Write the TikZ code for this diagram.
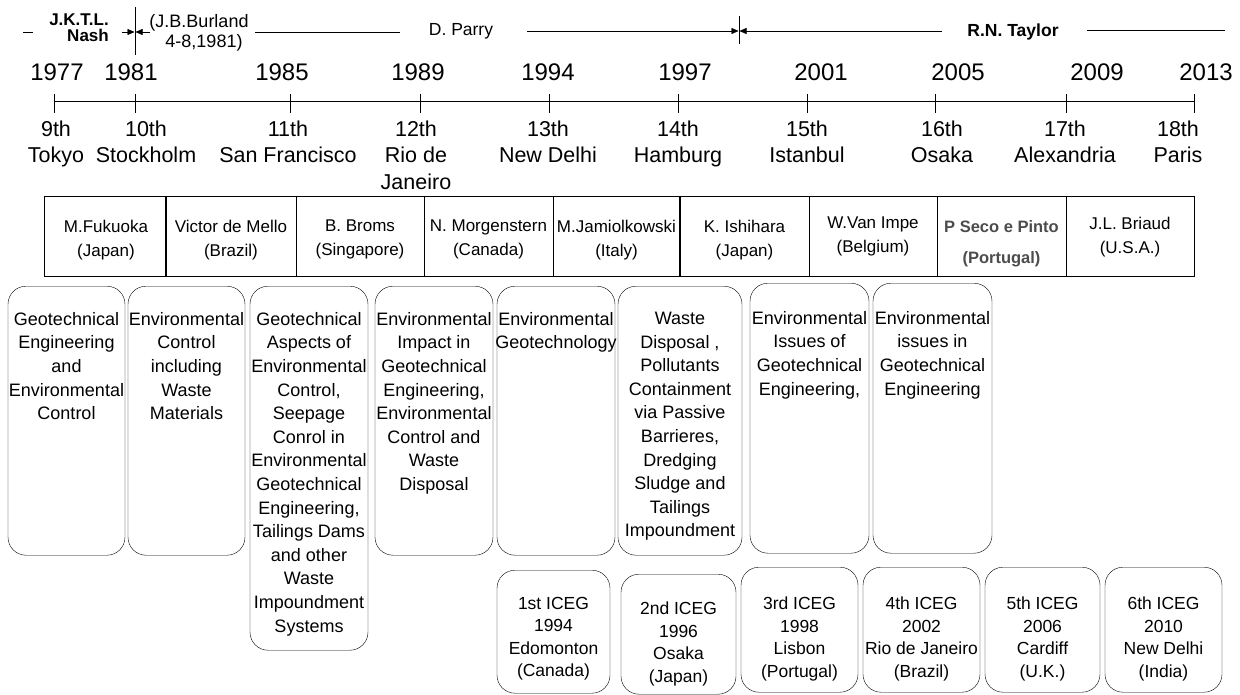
\documentclass[tikz,border=0pt]{standalone}
\usepackage{fontspec}
\setmainfont{Liberation Sans}
\usepackage{tikz}
\usetikzlibrary{arrows.meta}
\tikzstyle{year} = [font={\fontsize{24}{26}\selectfont}, inner sep=0pt, anchor=base]
\tikzstyle{city} = [font={\fontsize{21.5}{26.5}\selectfont}, align=center, inner sep=0pt, anchor=north]
\tikzstyle{chair} = [font={\fontsize{17}{24}\selectfont}, align=center, inner sep=0pt, anchor=north]
\tikzstyle{sg} = [font={\fontsize{18}{20}\selectfont}, align=center, inner sep=0pt]
\tikzstyle{sgbold} = [sg, font={\bfseries\fontsize{17}{16}\selectfont}]
\tikzstyle{topic} = [draw, rounded corners=18pt, anchor=north, inner sep=0pt]
\tikzstyle{topictext} = [font={\fontsize{18}{23.6}\selectfont}, align=center, inner sep=0pt, anchor=north]
\tikzstyle{iceg} = [draw, rounded corners=18pt, anchor=north, inner sep=0pt, minimum height=123]
\tikzstyle{icegtext} = [font={\fontsize{17.5}{22.5}\selectfont}, align=center, inner sep=0pt, anchor=north]
\tikzstyle{tip} = [-{Triangle[length=7pt,width=6pt]}]

\begin{document}
\begin{tikzpicture}[x=1pt,y=-1pt]
        \useasboundingbox (0,0) rectangle (1240,695);
        % secretaries general
        \coordinate(d0) at (23,32);
        \coordinate(d1) at (33,32);
        \node[sgbold,align=right,anchor=east](nash) at (109,28){J.K.T.L.\\Nash};
        \coordinate(m0) at (135,7);
        \coordinate(m1) at (135,55);
        \coordinate(a0) at (122,32);
        \coordinate(a1) at (134.5,32);
        \coordinate(a2) at (150,32);
        \coordinate(a3) at (135.5,32);
        \node[sg](burland) at (199,33){(J.B.Burland\\\ \ 4-8,1981)};
        \coordinate(b0) at (255,32);
        \coordinate(b1) at (400,32);
        \node[sg,font={\fontsize{17.5}{20}\selectfont}](parry) at (461,31){D. Parry};
        \coordinate(p0) at (527,31);
        \coordinate(p1) at (738.5,31);
        \coordinate(m2) at (739,16);
        \coordinate(m3) at (739,44);
        \coordinate(p2) at (942,31);
        \coordinate(p3) at (739.5,31);
        \node[sgbold,font={\bfseries\fontsize{17.5}{18}\selectfont}](taylor) at (1013,32){R.N. Taylor};
        \coordinate(r0) at (1087,30);
        \coordinate(r1) at (1225,30);
        \draw(d0)--(d1);
        \draw(m0)--(m1);
        \draw[tip](a0)--(a1);
        \draw[tip](a2)--(a3);
        \draw(b0)--(b1);
        \draw[tip](p0)--(p1);
        \draw(m2)--(m3);
        \draw[tip](p2)--(p3);
        \draw(r0)--(r1);
        % years
        \node[year](y1977) at (57,80.5){1977};
        \node[year](y1981) at (131,80.5){1981};
        \node[year](y1985) at (282,80.5){1985};
        \node[year](y1989) at (418,80.5){1989};
        \node[year](y1994) at (548,80.5){1994};
        \node[year](y1997) at (685,80.5){1997};
        \node[year](y2001) at (821,80.5){2001};
        \node[year](y2005) at (958,80.5){2005};
        \node[year](y2009) at (1097,80.5){2009};
        \node[year](y2013) at (1206,80.5){2013};
        % time line
        \coordinate(l0) at (54,101);
        \coordinate(l1) at (1194,101);
        \draw(l0)--(l1);
        \draw(54,94)--(54,113);
        \draw(135,94)--(135,113);
        \draw(290,94)--(290,113);
        \draw(420,94)--(420,113);
        \draw(549,94)--(549,113);
        \draw(678,94)--(678,113);
        \draw(807,94)--(807,113);
        \draw(935,94)--(935,113);
        \draw(1066,94)--(1066,113);
        \draw(1194,94)--(1194,113);
        % conferences
        \node[city](c9) at (56,120.5){9th\\Tokyo};
        \node[city](c10) at (146,120.5){10th\\Stockholm};
        \node[city](c11) at (288,120.5){11th\\San Francisco};
        \node[city](c12) at (416,120.5){12th\\Rio de\\Janeiro};
        \node[city](c13) at (548,120.5){13th\\New Delhi};
        \node[city](c14) at (678,120.5){14th\\Hamburg};
        \node[city](c15) at (807,120.5){15th\\Istanbul};
        \node[city](c16) at (942,120.5){16th\\Osaka};
        \node[city](c17) at (1065,120.5){17th\\Alexandria};
        \node[city](c18) at (1178,120.5){18th\\Paris};
        % presidents
        \draw(44,196) rectangle (1194,276);
        \draw(296,196)--(296,276);
        \draw(424,196)--(424,276);
        \draw(553,196)--(553,276);
        \draw(809,196)--(809,276);
        \draw(937,196)--(937,276);
        \draw(1066,196)--(1066,276);
        \draw[line width=1.8pt](166,196)--(166,276);
        \draw[line width=1.8pt](680,196)--(680,276);
        \node[chair](0) at (106,220){M.Fukuoka\\(Japan)};
        \node[chair](1) at (231,220){Victor de Mello\\(Brazil)};
        \node[chair](2) at (360,220){B. Broms\\(Singapore)};
        \node[chair](3) at (488.5,220){N. Morgenstern\\(Canada)};
        \node[chair](4) at (616.5,220){M.Jamiolkowski\\(Italy)};
        \node[chair](5) at (744.5,220){K. Ishihara\\(Japan)};
        \node[chair](6) at (873,217){W.Van Impe\\(Belgium)};
        \node[chair,text=black!70,font={\bfseries\fontsize{16.5}{24}\selectfont}](7) at (1001.5,220.5){P Seco e Pinto\\[7pt](Portugal)};
        \node[chair](8) at (1130,217){J.L. Briaud\\(U.S.A.)};
        % technical committee themes
        \node[topic,minimum width=117,minimum height=269](t1) at (66.5,286){};
        \node[topictext](t1t) at (66.5,312){Geotechnical\\Engineering\\and\\Environmental\\Control};
        \node[topic,minimum width=117,minimum height=269](t2) at (186.5,286){};
        \node[topictext](t2t) at (186.5,312){Environmental\\Control\\including\\Waste\\Materials};
        \node[topic,minimum width=118,minimum height=364](t3) at (309,286){};
        \node[topictext](t3t) at (309,312){Geotechnical\\Aspects of\\Environmental\\Control,\\Seepage\\Conrol in\\Environmental\\Geotechnical\\Engineering,\\Tailings Dams\\and other\\Waste\\Impoundment\\Systems};
        \node[topic,minimum width=118,minimum height=269](t4) at (434,286){};
        \node[topictext](t4t) at (434,312){Environmental\\Impact in\\Geotechnical\\Engineering,\\Environmental\\Control and\\Waste\\Disposal};
        \node[topic,minimum width=118,minimum height=269](t5) at (556,286){};
        \node[topictext](t5t) at (556,312){Environmental\\Geotechnology};
        \node[topic,minimum width=124,minimum height=269](t6) at (680,286){};
        \node[topictext](t6t) at (680,312){Waste\\Disposal ,\\Pollutants\\Containment\\via Passive\\Barrieres,\\Dredging\\Sludge and\\Tailings\\Impoundment};
        \node[topic,minimum width=119,minimum height=270](t7) at (809.5,283){};
        \node[topictext](t7t) at (809.5,311){Environmental\\Issues of\\Geotechnical\\Engineering,};
        \node[topic,minimum width=119,minimum height=270](t8) at (932.5,283){};
        \node[topictext](t8t) at (932.5,311){Environmental\\issues in\\Geotechnical\\Engineering};
        % ICEG conferences
        \node[iceg,minimum width=113](i1) at (553.5,570){};
        \node[icegtext](i1t) at (553.5,597){1st ICEG\\1994\\Edomonton\\(Canada)};
        \node[iceg,minimum width=115,minimum height=120](i2) at (678.5,574){};
        \node[icegtext](i2t) at (678.5,602){2nd ICEG\\1996\\Osaka\\(Japan)};
        \node[iceg,minimum width=117,minimum height=125](i3) at (799.5,567){};
        \node[icegtext](i3t) at (799.5,597){3rd ICEG\\1998\\Lisbon\\(Portugal)};
        \node[iceg,minimum width=117,minimum height=125](i4) at (921.5,567){};
        \node[icegtext](i4t) at (921.5,597){4th ICEG\\2002\\Rio de Janeiro\\(Brazil)};
        \node[iceg,minimum width=115,minimum height=125](i5) at (1042.5,567){};
        \node[icegtext](i5t) at (1042.5,597){5th ICEG\\2006\\Cardiff\\(U.K.)};
        \node[iceg,minimum width=117,minimum height=125](i6) at (1163.5,567){};
        \node[icegtext](i6t) at (1163.5,597){6th ICEG\\2010\\New Delhi\\(India)};
      \end{tikzpicture}
\end{document}
